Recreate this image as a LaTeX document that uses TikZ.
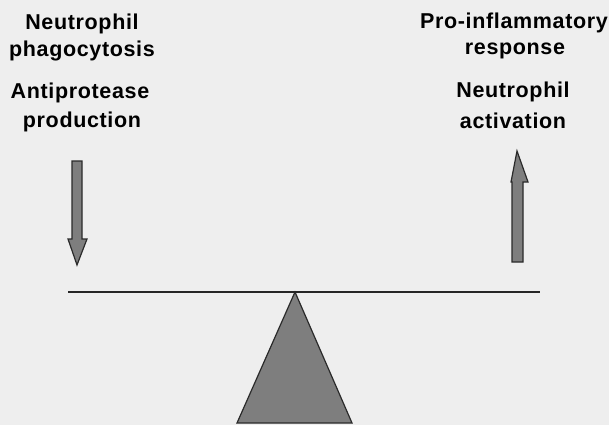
\documentclass[tikz,border=0pt]{standalone}
\usepackage{fontspec}
\setmainfont{Liberation Sans}[LetterSpace=3]
\definecolor{bg}{HTML}{EEEEEE}
\definecolor{fillgrey}{HTML}{7E7E7E}
\definecolor{edge}{HTML}{2A2A2A}
\begin{document}
\begin{tikzpicture}[x=1pt,y=-1pt,
  lbl/.style={anchor=base,inner sep=0pt,font=\fontsize{21.5}{26}\selectfont\bfseries},
  blockarrow/.style={fill=fillgrey,draw=edge,line width=1.2pt,line join=miter},
  beam/.style={draw=black!85,line width=1.6pt}]
\useasboundingbox (0,0) rectangle (609,425);
\fill[bg] (0,0) rectangle (609,425);
% left texts
\node[lbl] (l1) at (82,30) {Neutrophil};
\node[lbl] (l2) at (82,57) {phagocytosis};
\node[lbl] (l3) at (80,99) {Antiprotease};
\node[lbl] (l4) at (82,127) {production};
% right texts
\node[lbl] (r1) at (514,29) {Pro-inflammatory};
\node[lbl] (r2) at (515,55) {response};
\node[lbl] (r3) at (513,97) {Neutrophil};
\node[lbl] (r4) at (513,128) {activation};
% down arrow (left)
\draw[blockarrow] (72,161) -- (82,161) -- (82,239) -- (87,239) -- (77,265) -- (68,239) -- (72,239) -- cycle;
% up arrow (right)
\draw[blockarrow] (512,262) -- (523,262) -- (523,182) -- (528,182) -- (517,151) -- (511,182) -- (512,182) -- cycle;
% fulcrum
\coordinate (apex) at (295,292);
\draw[blockarrow] (apex) -- (352,423) -- (237,423) -- cycle;
% beam
\coordinate (bl) at (68,292);
\coordinate (br) at (540,292);
\draw[beam] (bl) -- (br);
\end{tikzpicture}
\end{document}
